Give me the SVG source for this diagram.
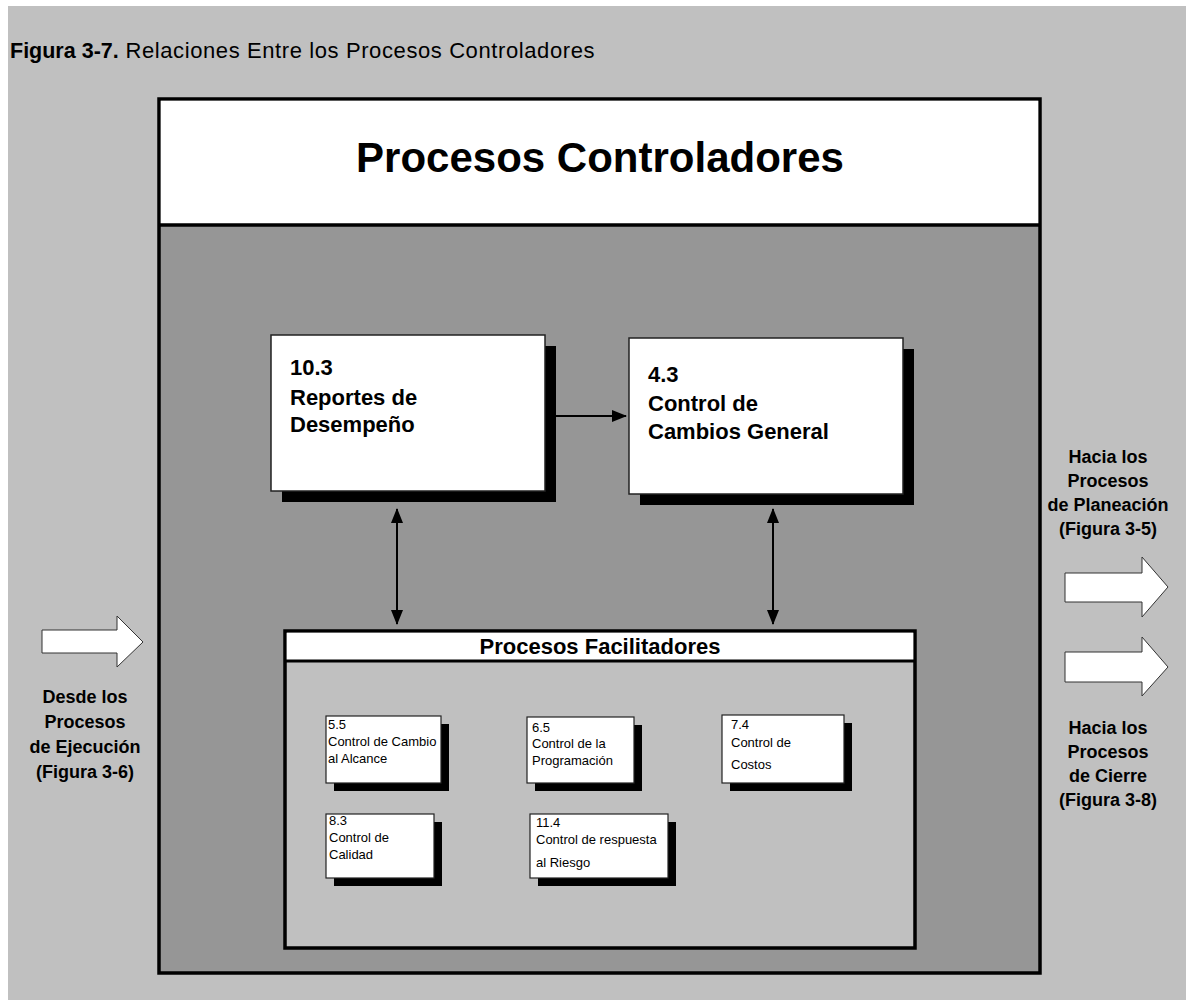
<svg xmlns="http://www.w3.org/2000/svg" width="1186" height="1000" viewBox="0 0 1186 1000">
<style>
.b{font-family:"Liberation Sans",Arial,Helvetica,sans-serif;font-weight:bold;fill:#000}
.r{font-family:"Liberation Sans",Arial,Helvetica,sans-serif;font-weight:normal;fill:#000}
.big{font-size:22px}
.side{font-size:18px;text-anchor:middle}
.sm{font-size:13px}
.box{fill:#fff;stroke:#222;stroke-width:1.5}
.sbox{fill:#fff;stroke:#222;stroke-width:1.2}
.shadow{fill:#000}
.conn{stroke:#000;stroke-width:2;fill:none}
.blk{fill:#fff;stroke:#333;stroke-width:1}
</style>
<defs>
<marker id="ah" viewBox="0 0 15 12" refX="14" refY="6" markerWidth="15" markerHeight="12" markerUnits="userSpaceOnUse" orient="auto-start-reverse">
<path d="M0,0 L15,6 L0,12 z" fill="#000"/>
</marker>
</defs>
<rect x="0" y="0" width="1186" height="1000" fill="#fff"/>
<rect x="8" y="6" width="1178" height="994" fill="#c0c0c0"/>
<text x="10" y="58" class="b" font-size="21.5">Figura 3-7.<tspan class="r" font-size="22" letter-spacing="0.6"> Relaciones Entre los Procesos Controladores</tspan></text>

<g id="controladores">
<rect x="159" y="99" width="881" height="874" fill="#969696" stroke="#000" stroke-width="3.5"/>
<rect x="160.75" y="100.75" width="877.5" height="124" fill="#fff"/>
<line x1="159" y1="225" x2="1040" y2="225" stroke="#000" stroke-width="3.5"/>
<text x="600" y="172" class="b" font-size="42" text-anchor="middle">Procesos Controladores</text>
</g>

<g id="n10_3">
<rect x="282" y="346" width="274" height="156" class="shadow"/>
<rect x="271" y="335" width="274" height="156" class="box"/>
<text class="b big"><tspan x="290" y="375">10.3</tspan><tspan x="290" y="405">Reportes de</tspan><tspan x="290" y="432">Desempeño</tspan></text>
</g>

<g id="n4_3">
<rect x="640" y="349" width="274" height="156" class="shadow"/>
<rect x="629" y="338" width="274" height="156" class="box"/>
<text class="b big"><tspan x="648" y="382">4.3</tspan><tspan x="648" y="411">Control de</tspan><tspan x="648" y="439">Cambios General</tspan></text>
</g>

<g id="facilitadores">
<rect x="285" y="631" width="630" height="317" fill="#c0c0c0" stroke="#000" stroke-width="3.5"/>
<rect x="286.75" y="632.75" width="626.5" height="27.5" fill="#fff"/>
<line x1="285" y1="661" x2="915" y2="661" stroke="#000" stroke-width="3"/>
<text x="600" y="654" class="b big" text-anchor="middle">Procesos Facilitadores</text>
</g>

<g id="n5_5">
<rect x="334" y="724" width="115" height="67" class="shadow"/>
<rect x="326" y="716" width="115" height="67" class="sbox"/>
<text class="r sm"><tspan x="328" y="729">5.5</tspan><tspan x="328" y="746">Control de Cambio</tspan><tspan x="328" y="763">al Alcance</tspan></text>
</g>

<g id="n6_5">
<rect x="535" y="725" width="107" height="66" class="shadow"/>
<rect x="527" y="717" width="107" height="66" class="sbox"/>
<text class="r sm"><tspan x="532" y="731.5">6.5</tspan><tspan x="532" y="748">Control de la</tspan><tspan x="532" y="764.5">Programación</tspan></text>
</g>

<g id="n7_4">
<rect x="730" y="723" width="122" height="68" class="shadow"/>
<rect x="722" y="715" width="122" height="68" class="sbox"/>
<text class="r sm"><tspan x="731" y="729">7.4</tspan><tspan x="731" y="746.5">Control de</tspan><tspan x="731" y="769">Costos</tspan></text>
</g>

<g id="n8_3">
<rect x="334" y="822" width="108" height="64" class="shadow"/>
<rect x="326" y="814" width="108" height="64" class="sbox"/>
<text class="r sm"><tspan x="329" y="825">8.3</tspan><tspan x="329" y="842">Control de</tspan><tspan x="329" y="859">Calidad</tspan></text>
</g>

<g id="n11_4">
<rect x="538" y="822" width="138" height="64" class="shadow"/>
<rect x="530" y="814" width="138" height="64" class="sbox"/>
<text class="r sm"><tspan x="536" y="826.5">11.4</tspan><tspan x="536" y="844">Control de respuesta</tspan><tspan x="536" y="866.5">al Riesgo</tspan></text>
</g>

<g id="desde">
<polygon points="42,630 117,630 117,616 143,642 117,667 117,653 42,653" class="blk"/>
<text class="b side"><tspan x="85" y="703">Desde los</tspan><tspan x="85" y="728">Procesos</tspan><tspan x="85" y="753">de Ejecución</tspan><tspan x="85" y="778">(Figura 3-6)</tspan></text>
</g>

<g id="hacia_planeacion">
<polygon points="1065,573 1142,573 1142,557 1168,587 1142,617 1142,602 1065,602" class="blk"/>
<text class="b side"><tspan x="1108" y="463">Hacia los</tspan><tspan x="1108" y="487">Procesos</tspan><tspan x="1108" y="511">de Planeación</tspan><tspan x="1108" y="535">(Figura 3-5)</tspan></text>
</g>

<g id="hacia_cierre">
<polygon points="1065,652 1142,652 1142,637 1168,667 1142,696 1142,682 1065,682" class="blk"/>
<text class="b side"><tspan x="1108" y="734">Hacia los</tspan><tspan x="1108" y="758">Procesos</tspan><tspan x="1108" y="782">de Cierre</tspan><tspan x="1108" y="806">(Figura 3-8)</tspan></text>
</g>

<g id="connectors">
<line x1="556" y1="416" x2="626" y2="416" class="conn" marker-end="url(#ah)"/>
<line x1="397" y1="509" x2="397" y2="624" class="conn" marker-start="url(#ah)" marker-end="url(#ah)"/>
<line x1="773" y1="509" x2="773" y2="624" class="conn" marker-start="url(#ah)" marker-end="url(#ah)"/>
</g>
</svg>
